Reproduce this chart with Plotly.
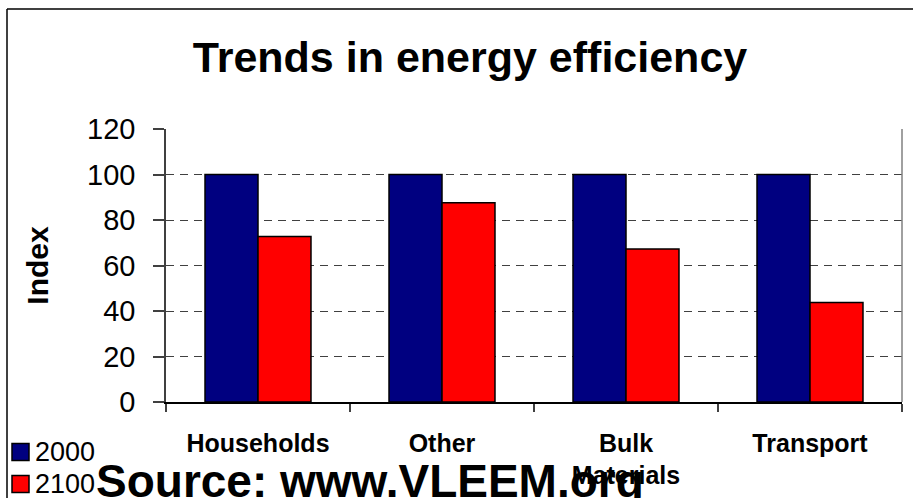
import plotly.graph_objects as go

# ---- data ----
categories = ["Households", "Other", "Bulk<br>Materials", "Transport"]
series_names = ["2000", "2100"]
values_2000 = [100, 100, 100, 100]
values_2100 = [72.8, 87.6, 67.2, 43.7]
y_ticks = [0, 20, 40, 60, 80, 100, 120]
series_colors = ["#000080", "#FF0000"]

# ---- layout helpers (pixel -> paper) ----
W, H = 913, 498
L, R, T, B = 166, 11, 129, 96
PW, PH = W - L - R, H - T - B


def px_x(x):
    return (x - L) / PW


def px_y(y):
    return (H - B - y) / PH


FONT = "Liberation Sans, Arial, Helvetica, sans-serif"

fig = go.Figure()
for name, vals, col in zip(series_names, [values_2000, values_2100], series_colors):
    fig.add_trace(go.Bar(x=categories, y=vals, name=name, showlegend=False,
                         marker=dict(color=col, line=dict(color="black", width=1.5))))

fig.update_layout(
    width=W, height=H,
    margin=dict(l=L, r=R, t=T, b=B, autoexpand=False),
    paper_bgcolor="white", plot_bgcolor="white",
    barmode="group", bargap=0.424, bargroupgap=0,
    font=dict(family=FONT, color="black"),
    title=dict(text="<b>Trends in energy efficiency</b>",
               font=dict(size=43, family=FONT, color="black"),
               x=470 / W, xanchor="center", xref="container",
               y=1 - 57 / H, yanchor="middle", yref="container"),
    showlegend=False,
)

fig.update_yaxes(
    range=[0, 120], tickvals=y_ticks, ticktext=[str(v) for v in y_ticks],
    showgrid=True, gridcolor="#404040", griddash="8px,6px", gridwidth=1,
    showline=True, linecolor="#404040", linewidth=1.5,
    ticks="outside", ticklen=11, tickcolor="#404040", tickwidth=1.5,
    tickfont=dict(size=29, family=FONT, color="black"), ticklabelstandoff=12,
    zeroline=False,
    title=dict(text="<b>Index</b>", font=dict(size=30, family=FONT, color="black"), standoff=30),
)
fig.update_xaxes(
    showline=True, linecolor="black", linewidth=1.5,
    ticks="outside", tickson="boundaries", ticklen=8, tickcolor="#404040", tickwidth=1.5,
    tickfont=dict(size=25, family=FONT, color="black", weight="bold"), ticklabelstandoff=18,
    showgrid=False,
)

# right border of plot area
fig.add_shape(type="line", xref="paper", yref="paper", x0=1, x1=1, y0=0, y1=1,
              line=dict(color="#808080", width=1.5))
# outer chart frame (left and top edges)
fig.add_shape(type="line", xref="paper", yref="paper", x0=px_x(7), x1=px_x(7),
              y0=px_y(9), y1=px_y(H + 5), line=dict(color="black", width=1.5))
fig.add_shape(type="line", xref="paper", yref="paper", x0=px_x(7), x1=px_x(W + 5),
              y0=px_y(9), y1=px_y(9), line=dict(color="black", width=1.5))

# legend (drawn manually to match the reference's large swatches)
legend_rows_y = [452, 484]
for name, col, yc in zip(series_names, series_colors, legend_rows_y):
    fig.add_shape(type="rect", xref="paper", yref="paper",
                  x0=px_x(12), x1=px_x(29), y0=px_y(yc - 8.5), y1=px_y(yc + 8.5),
                  fillcolor=col, line=dict(color="black", width=1.5))
    fig.add_annotation(text=name, xref="paper", yref="paper",
                       x=px_x(33), xanchor="left", y=px_y(yc), yanchor="middle",
                       showarrow=False, font=dict(size=27, family=FONT, color="black"))

fig.add_annotation(text="<b>Source: www.VLEEM.org</b>", xref="paper", yref="paper",
                   x=px_x(94), xanchor="left", y=px_y(481), yanchor="middle",
                   showarrow=False, font=dict(size=46, family=FONT, color="black"))

fig.write_html("out.html")
